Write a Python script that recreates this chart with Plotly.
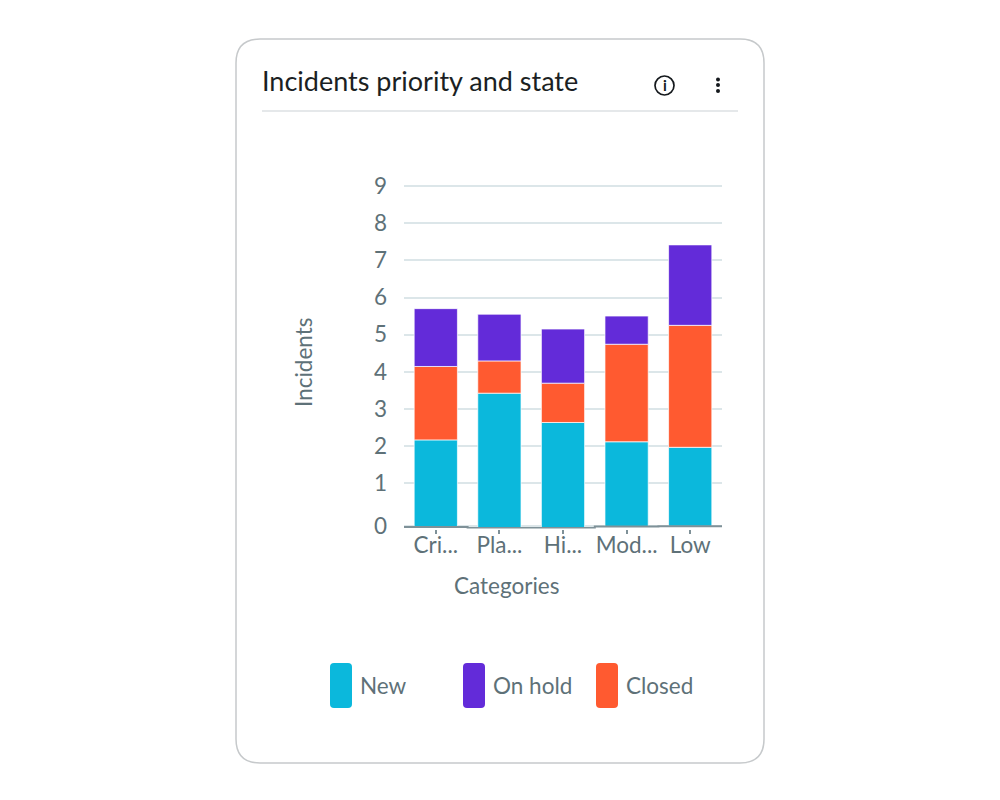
import plotly.graph_objects as go

# values
categories = ['Cri...', 'Pla...', 'Hi...', 'Mod...', 'Low']
new = [2.16, 3.42, 2.63, 2.11, 1.96]
closed = [1.98, 0.87, 1.06, 2.63, 3.29]
on_hold = [1.56, 1.26, 1.46, 0.76, 2.17]
# the drawn baseline sits below the "1" spacing and steps a little per bar
baseline = [-0.19, -0.215, -0.215, -0.175, -0.17]
y_ticks = [-0.16, 1, 2, 3, 4, 5, 6, 7, 8, 9]
y_tick_labels = ['0', '1', '2', '3', '4', '5', '6', '7', '8', '9']

BLUE = '#0BB8DC'
PURPLE = '#632BD9'
ORANGE = '#FF5A30'
TEXT = '#5E7178'
GRID = '#DCE6E9'
AXIS = '#7F9198'
FONT = 'Lato'

# page body has an 8px margin, so the figure is a little smaller than the window
WIDTH = 992
HEIGHT = 784
PAGE_MARGIN = 8


def px(x):
    return (x - PAGE_MARGIN) / WIDTH


def py(y):
    return 1 - (y - PAGE_MARGIN) / HEIGHT


def round_rect(x0, y0, x1, y1, r):
    return (f'M {px(x0 + r)} {py(y0)} L {px(x1 - r)} {py(y0)} '
            f'Q {px(x1)} {py(y0)} {px(x1)} {py(y0 + r)} L {px(x1)} {py(y1 - r)} '
            f'Q {px(x1)} {py(y1)} {px(x1 - r)} {py(y1)} L {px(x0 + r)} {py(y1)} '
            f'Q {px(x0)} {py(y1)} {px(x0)} {py(y1 - r)} L {px(x0)} {py(y0 + r)} '
            f'Q {px(x0)} {py(y0)} {px(x0 + r)} {py(y0)} Z')


x_pos = list(range(len(categories)))
base_closed = [a + b for a, b in zip(new, closed)]

fig = go.Figure()
edge = dict(color='rgba(255,255,255,0.7)', width=1)
fig.add_bar(x=x_pos, y=[a - b for a, b in zip(new, baseline)], base=baseline, name='New',
            marker=dict(color=BLUE, line=edge), width=0.68)
fig.add_bar(x=x_pos, y=closed, base=new, name='Closed',
            marker=dict(color=ORANGE, line=edge), width=0.68)
fig.add_bar(x=x_pos, y=on_hold, base=base_closed, name='On hold',
            marker=dict(color=PURPLE, line=edge), width=0.68)

# stepped axis line along the bottom of the bars
fig.add_scatter(x=[-0.5] + x_pos + [4.5], y=[baseline[0]] + baseline + [baseline[-1]],
                mode='lines', line=dict(color=AXIS, width=2, shape='hvh'), hoverinfo='skip')

shapes = [
    dict(type='path', path=round_rect(236, 39, 764, 763, 24), xref='paper', yref='paper',
         line=dict(color='#C6C9CB', width=1.5), layer='below'),
    dict(type='line', xref='paper', yref='paper', x0=px(262), x1=px(738), y0=py(111), y1=py(111),
         line=dict(color='#DDE1E3', width=1.5)),
    dict(type='circle', xref='paper', yref='paper', x0=px(655), x1=px(674), y0=py(76), y1=py(95),
         line=dict(color='#14181C', width=1.7)),
]
for dot_y in (79.5, 85, 91):
    shapes.append(dict(type='circle', xref='paper', yref='paper', x0=px(716), x1=px(720),
                       y0=py(dot_y - 2), y1=py(dot_y + 2), fillcolor='#14181C', line_width=0))
for x0, color in ((330, BLUE), (463, PURPLE), (596, ORANGE)):
    shapes.append(dict(type='path', path=round_rect(x0, 663, x0 + 22, 708, 4), xref='paper', yref='paper',
                       fillcolor=color, line_width=0))


def label(x, y, text, size=22.5, color=TEXT, anchor='left', angle=0, weight='normal'):
    return dict(x=px(x), y=py(y), xref='paper', yref='paper', text=text, showarrow=False,
                xanchor=anchor, yanchor='middle', textangle=angle,
                font=dict(family=FONT, size=size, color=color, weight=weight))


annotations = [
    label(260, 80, 'Incidents priority and state', size=27, color='#1B1F23'),
    label(664.5, 85.5, 'i', size=15, color='#14181C', anchor='center', weight='bold'),
    label(303.5, 362.5, 'Incidents', anchor='center', angle=-90),
    label(506.5, 585, 'Categories', anchor='center'),
    label(358, 685, 'New'),
    label(491, 685, 'On hold'),
    label(624, 685, 'Closed'),
]

fig.update_layout(
    barmode='overlay',
    width=WIDTH,
    height=HEIGHT,
    margin=dict(l=0, r=0, t=0, b=0),
    paper_bgcolor='white',
    plot_bgcolor='white',
    showlegend=False,
    shapes=shapes,
    annotations=annotations,
    font=dict(family=FONT, color=TEXT),
    xaxis=dict(domain=[px(404), px(722)], range=[-0.5, 4.5], tickmode='array', tickvals=x_pos,
               ticktext=categories, ticks='outside', ticklen=4, tickcolor=AXIS, tickwidth=1.5,
               showgrid=False, zeroline=False, automargin=False,
               tickfont=dict(size=22.5, color=TEXT), ticklabelstandoff=-8),
    yaxis=dict(domain=[py(528.5), py(180)], range=[-0.23, 9.17], tickmode='array', tickvals=y_ticks,
               ticktext=y_tick_labels, ticks='', showgrid=True, gridcolor=GRID, gridwidth=2,
               zeroline=False, automargin=False,
               tickfont=dict(size=22.5, color=TEXT), ticklabelstandoff=16),
)

fig.write_html('out.html')
